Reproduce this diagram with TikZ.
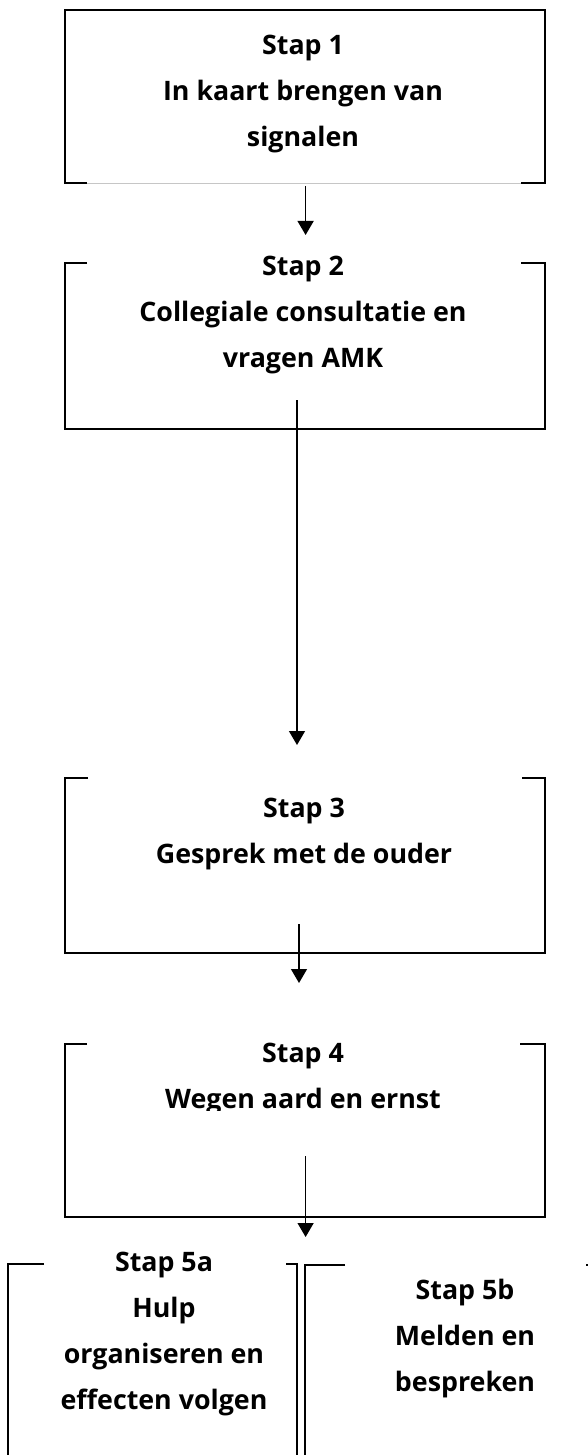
\documentclass[tikz,border=0pt]{standalone}
\usepackage{fontspec}
\setmainfont{Open Sans}
\usetikzlibrary{arrows.meta}

\begin{document}
\begin{tikzpicture}[x=1pt,y=-1pt,
  frame/.style={line width=2.4pt},
  flow/.style={line width=1.4pt,-{Triangle[width=16pt,length=14pt]}},
  every node/.style={align=center,inner sep=0pt,font=\bfseries\fontsize{26.8}{46}\selectfont}]
  \useasboundingbox (0,0) rectangle (588,1455);

  \draw[frame] (87,183) -- (65,183) -- (65,10) -- (545,10) -- (545,183) -- (521,183);
  \draw[gray!45,line width=1pt] (87,183.5) -- (521,183.5);
  \draw[frame] (87,263) -- (65,263) -- (65,429) -- (545,429) -- (545,263) -- (521,263);
  \draw[frame] (88,778) -- (65,778) -- (65,953) -- (545,953) -- (545,778) -- (522,778);
  \draw[frame] (87,1044) -- (65,1044) -- (65,1217) -- (545,1217) -- (545,1044) -- (520,1044);
  \draw[frame] (44,1264) -- (8,1264) -- (8,1460);
  \draw[frame] (286,1264) -- (297,1264) -- (297,1460);
  \draw[frame] (345,1265) -- (305,1265) -- (305,1460);
  \draw[frame] (586,1265) -- (592,1265) -- (592,1460);

  \node (s1) at (303,94.5) {Stap 1\\In kaart brengen van\\signalen};
  \node (s2) at (303,315) {Stap 2\\Collegiale consultatie en\\vragen AMK};
  \node (s3) at (304,834) {Stap 3\\Gesprek met de ouder};
  \begin{scope}
    \clip (60,1030) rectangle (550,1110);
    \node (s4) at (303,1079.5) {Stap 4\\Wegen aard en ernst};
  \end{scope}
  \node (s5a) at (164,1334) {\fontsize{26.8}{40.7}\selectfont Stap 5a\\Hulp\\organiseren en\\effecten volgen};
  \node (s5b) at (465,1339) {\fontsize{26.8}{41}\selectfont Stap 5b\\Melden en\\bespreken};

  \coordinate (p1) at (305.6,186);  \coordinate (q1) at (305.6,235);
  \coordinate (p2) at (297,400);    \coordinate (q2) at (297,745);
  \coordinate (p3) at (299,924);    \coordinate (q3) at (299,983);
  \coordinate (p4) at (305.6,1156); \coordinate (q4) at (305.6,1237);

  \draw[flow] (p1) -- (q1);
  \draw[flow] (p2) -- (q2);
  \draw[flow] (p3) -- (q3);
  \draw[flow] (p4) -- (q4);
\end{tikzpicture}
\end{document}
